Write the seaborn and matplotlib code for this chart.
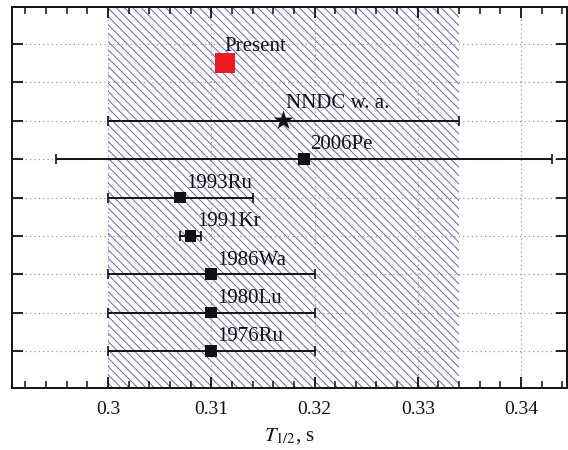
import matplotlib
matplotlib.use("Agg")
import matplotlib.pyplot as plt
import seaborn as sns
import pandas as pd
from matplotlib.ticker import MultipleLocator

# ---- data ----
labels = ["1976Ru", "1980Lu", "1986Wa", "1991Kr", "1993Ru", "2006Pe", "NNDC w. a.", "Present"]
rows = [1, 2, 3, 4, 5, 6, 7, 8.5]
values = [0.310, 0.310, 0.310, 0.308, 0.307, 0.319, 0.317, 0.3113]
errors = [0.010, 0.010, 0.010, 0.001, 0.007, 0.024, 0.017, 0.0]
band_lo = 0.300
band_hi = 0.334
xticks = [0.30, 0.31, 0.32, 0.33, 0.34]
xticklabels = ["0.3", "0.31", "0.32", "0.33", "0.34"]
yticks = [1, 2, 3, 4, 5, 6, 7, 8, 9]

df = pd.DataFrame({"label": labels, "row": rows, "value": values, "err": errors})
meas = df.iloc[:6]
nndc = df.iloc[6:7]
present = df.iloc[7:8]

sns.set_theme(style="ticks")
plt.rcParams["font.family"] = ["Liberation Serif", "DejaVu Serif"]
plt.rcParams["mathtext.fontset"] = "stix"
plt.rcParams["hatch.linewidth"] = 0.7

fig = plt.figure(figsize=(5.68, 4.5), dpi=100)
ax = fig.add_axes([12/568, 1 - 388/450, 555/568, 381/450])

# hatched band
ax.axvspan(band_lo, band_hi, facecolor="white", edgecolor="#6464b8",
           hatch="\\\\\\\\", linewidth=0, zorder=0)

# grid
for xv in xticks:
    ax.axvline(xv, color="#999999", linestyle=(0, (1, 2.5)), linewidth=0.9, zorder=0.5)
for yv in yticks:
    ax.axhline(yv, color="#999999", linestyle=(0, (1, 2.5)), linewidth=0.9, zorder=0.5)

# error bars
eb = df.iloc[:7]
ax.errorbar(eb["value"], eb["row"], xerr=eb["err"], fmt="none", ecolor="#111111",
            elinewidth=1.4, capsize=3.5, capthick=1.2, zorder=2)

sns.scatterplot(data=meas, x="value", y="row", marker="s", s=70, color="#111111",
                edgecolor="none", ax=ax, zorder=3, legend=False)
sns.scatterplot(data=nndc, x="value", y="row", marker="*", s=220, color="#111111",
                edgecolor="none", ax=ax, zorder=3, legend=False)
sns.scatterplot(data=present, x="value", y="row", marker="s", s=210, color="#ed1c24",
                edgecolor="none", ax=ax, zorder=3, legend=False)

for _, r in df.iterrows():
    if r["label"] == "Present":
        off = (-0.5, 9)
    elif r["label"] == "NNDC w. a.":
        off = (1.5, 9)
    else:
        off = (4.5, 7)
    ax.annotate(r["label"], (r["value"], r["row"]), xytext=off, textcoords="offset points",
                ha="left", va="baseline", fontsize=15, color="#111111", zorder=4)

ax.set_xlim(0.29070, 0.344455)
ax.set_ylim(0.036, 9.964)
ax.set_xticks(xticks)
ax.set_xticklabels(xticklabels, fontsize=14)
ax.xaxis.set_minor_locator(MultipleLocator(0.002))
ax.set_yticks(yticks)
ax.set_yticklabels([])
ax.tick_params(axis="both", which="major", direction="in", length=8, width=1.3,
               top=True, right=True, color="#111111", pad=9, labelcolor="#111111")
ax.tick_params(axis="x", which="minor", direction="in", length=5, width=1.1,
               top=True, color="#111111")
for sp in ax.spines.values():
    sp.set_visible(True)
    sp.set_linewidth(1.4)
    sp.set_color("#111111")
ax.set_xlabel(r"$T_{1/2}$, s", fontsize=15, color="#111111", labelpad=6)
ax.set_ylabel("")

fig.savefig("out.png", dpi=100)
